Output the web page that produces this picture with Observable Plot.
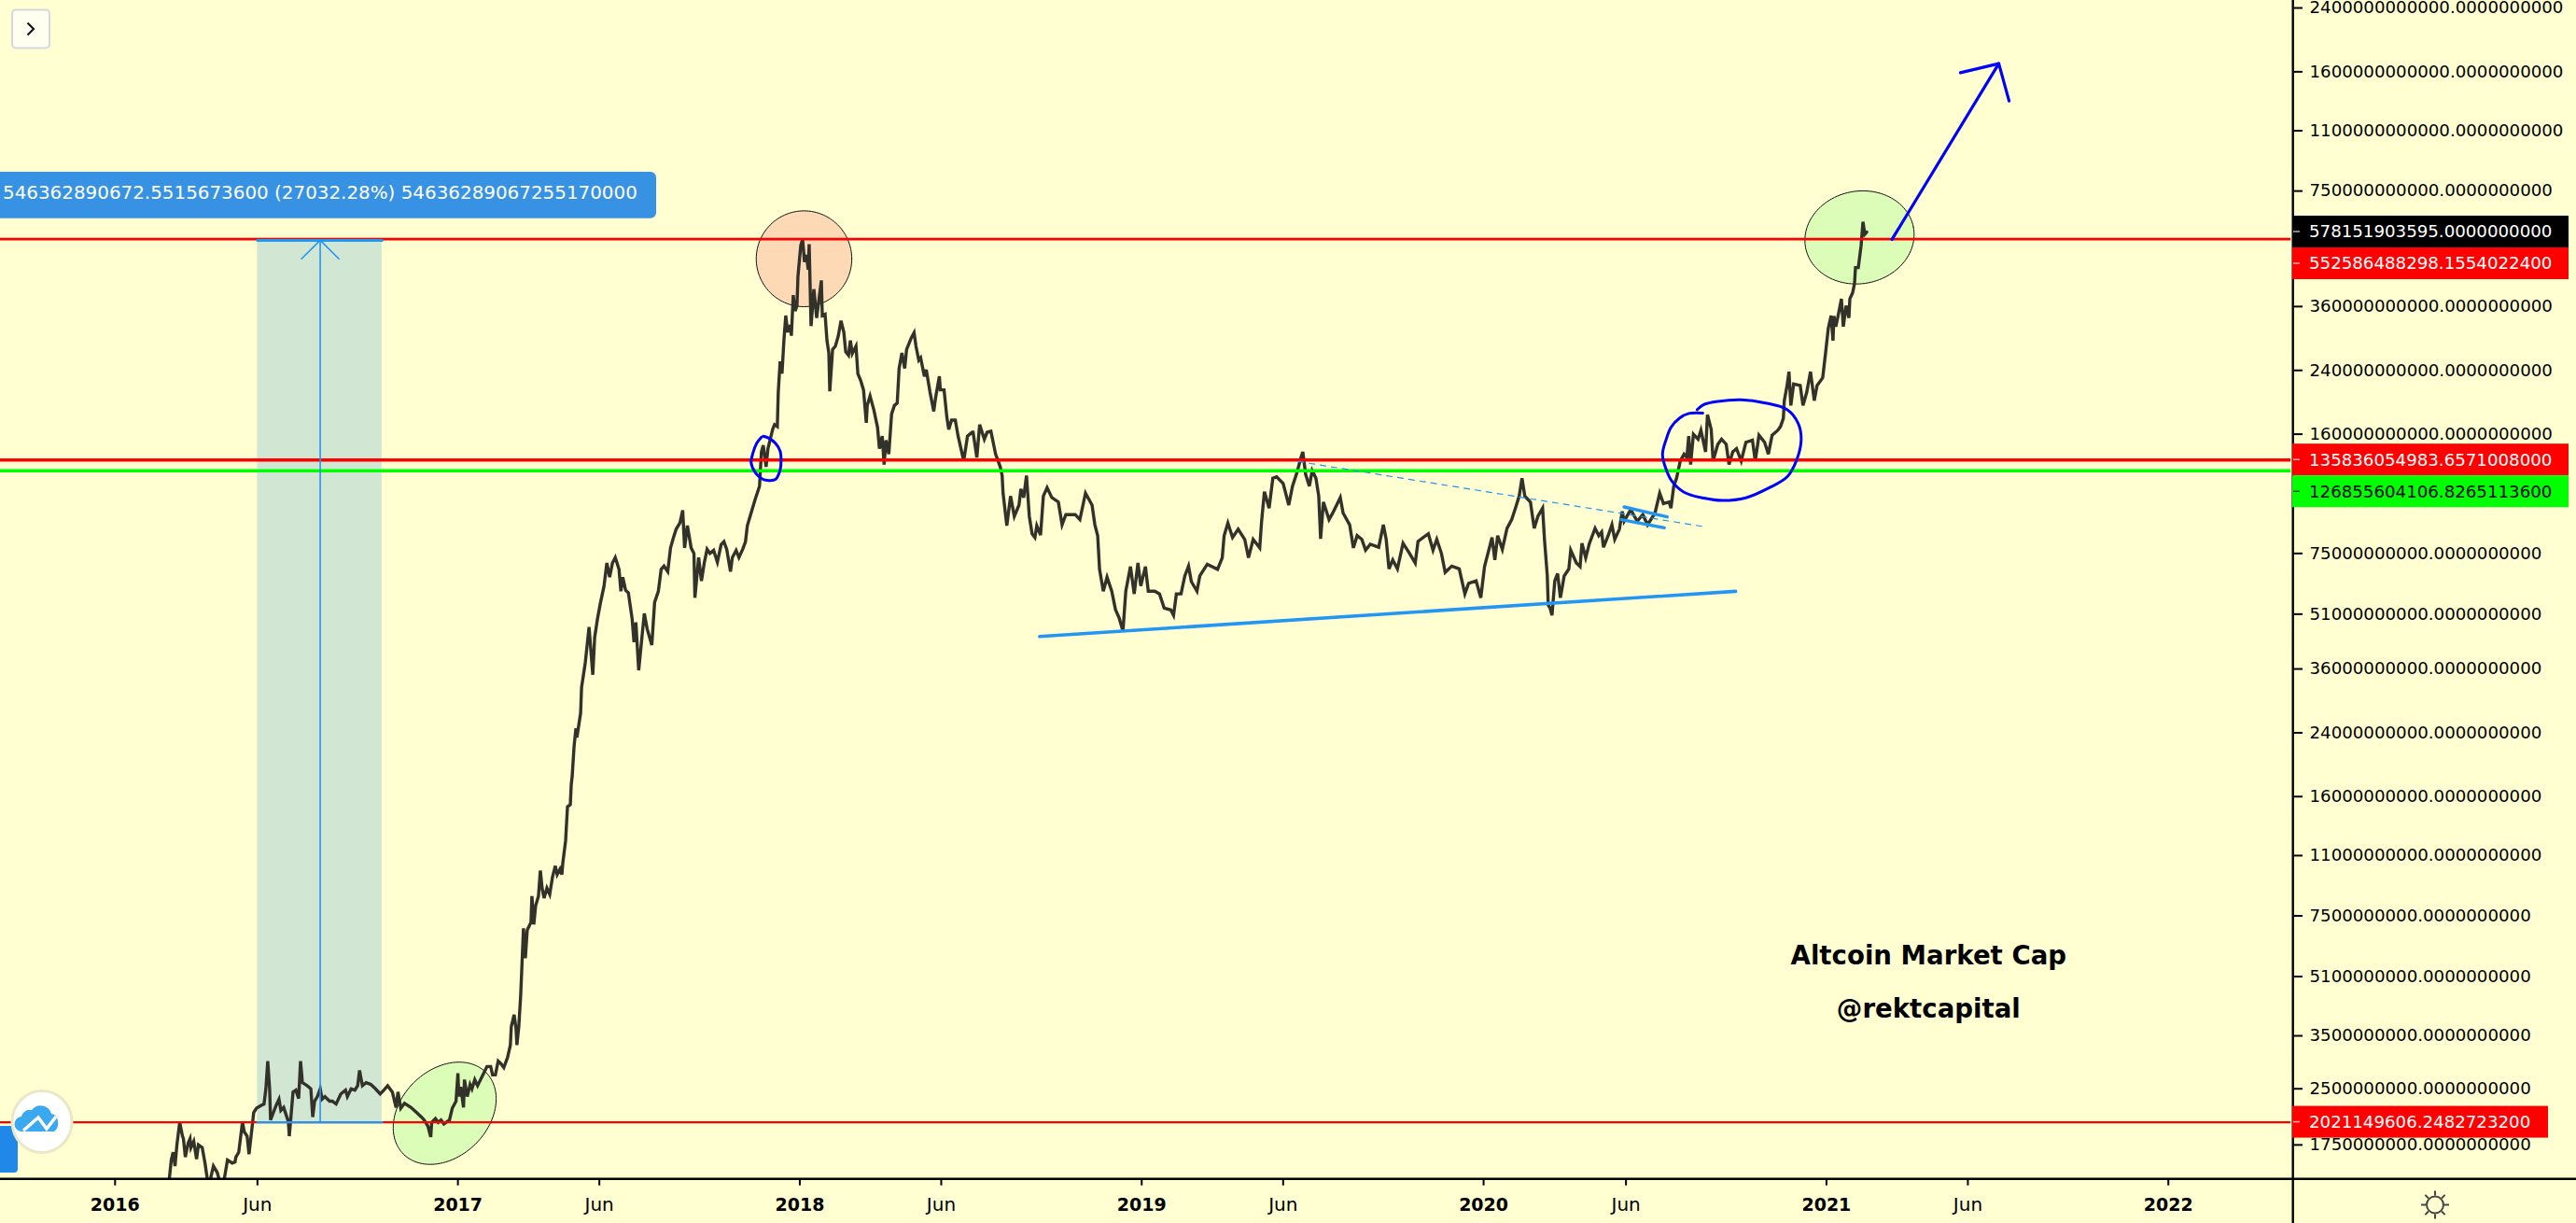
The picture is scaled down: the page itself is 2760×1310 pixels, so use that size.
<!DOCTYPE html>
<html>
<head>
<meta charset="utf-8">
<script src="https://cdn.jsdelivr.net/npm/d3@7"></script>
<script src="https://cdn.jsdelivr.net/npm/@observablehq/plot@0.6"></script>
<style>
html,body{margin:0;padding:0;background:#ffffd1;}
svg{display:block;}
</style>
</head>
<body>
<div id="chart"></div>
<script>
// Altcoin market cap: [days since 2016-01-01, value in billions USD]
const cap2016 = [[52,1.25],[58,1.42],[60,1.59],[62,1.67],[64,1.53],[66,1.75],[69,2.02],[72,1.85],[73,1.82],[75,1.62],[78,1.77],[80,1.82],[81,1.72],[84,1.79],[87,1.60],[89,1.75],[93,1.72],[96,1.56],[99,1.38],[101,1.38],[105,1.53],[109,1.47],[112,1.38],[116,1.38],[120,1.59],[125,1.56],[128,1.57],[129,1.62],[132,1.67],[136,2.02],[138,1.90],[141,1.85],[143,1.65],[146,1.93],[148,2.15],[151,2.21],[156,2.25],[159,2.27],[161,2.50],[163,2.98],[165,2.50],[166,2.05],[169,2.15],[172,2.25],[175,2.34],[177,2.18],[180,2.22],[185,2.03],[186,1.85],[188,2.13],[190,2.45],[193,2.48],[196,2.35],[198,2.98],[200,2.60],[205,2.55],[209,2.50],[211,2.09],[213,2.31],[216,2.38],[219,2.50],[221,2.34],[224,2.38],[229,2.31],[232,2.31],[236,2.27],[241,2.42],[246,2.48],[248,2.38],[252,2.50],[256,2.48],[259,2.55],[261,2.81],[264,2.55],[268,2.60],[273,2.57],[278,2.50],[283,2.42],[287,2.48],[291,2.55],[296,2.45],[300,2.22],[302,2.45],[305,2.21],[309,2.28],[316,2.22],[322,2.15],[327,2.09],[330,2.05],[334,1.97],[337,1.84],[338,2.02],[342,2.07],[345,2.02],[348,2.05],[351,2.00],[357,2.05],[360,2.21],[364,2.31]];
const cap2017 = [[366,2.76],[367,2.38],[369,2.53],[372,2.22],[373,2.65],[376,2.38],[379,2.57],[381,2.50],[384,2.65],[387,2.55],[392,2.71],[397,2.88],[401,2.88],[403,2.73],[406,2.73],[409,2.98],[412,2.93],[415,2.86],[419,3.05],[422,3.30],[423,3.71],[426,4.00],[428,3.67],[429,3.30],[431,3.71],[433,4.52],[434,5.20],[436,6.93],[438,5.73],[440,6.85],[444,7.20],[445,8.50],[447,7.10],[449,8.00],[452,8.50],[454,10.0],[456,8.90],[458,8.40],[461,8.95],[464,8.60],[467,9.60],[470,10.3],[472,9.75],[475,10.1],[477,9.75],[478,10.5],[481,12.1],[482,13.5],[483,15.0],[486,15.2],[487,17.3],[488,18.2],[490,22.0],[492,24.7],[493,23.3],[497,27.2],[498,32.0],[502,37.5],[506,47.0],[510,34.7],[512,44.0],[515,49.5],[518,54.5],[522,61.0],[525,70.6],[528,64.5],[531,70.6],[534,73.1],[538,67.8],[540,59.0],[542,64.5],[545,59.4],[548,58.4],[552,49.5],[554,42.7],[556,48.4],[559,35.7],[563,45.5],[565,51.2],[568,46.5],[573,41.9],[576,55.0],[580,59.0],[583,67.8],[586,69.2],[590,66.8],[593,77.7],[596,82.8],[599,87.5],[603,91.0],[606,98.6],[608,77.7],[611,89.5],[615,77.7],[618,75.0],[619,56.6],[623,73.1],[626,63.0],[629,70.6],[632,77.0],[635,75.0],[639,76.5],[643,71.0],[647,79.3],[650,80.8],[653,77.0],[657,66.8],[659,73.1],[663,76.5],[666,73.1],[670,77.0],[673,80.8],[675,89.5],[679,97.0],[683,105],[688,115],[690,143],[692,149],[695,130],[697,146],[702,165],[704,170],[707,168],[708,209],[710,254],[712,235],[714,290],[716,340],[718,306],[721,320],[722,299],[724,387],[726,350],[728,362],[729,435]];
const cap2018 = [[732,530],[734,552],[736,478],[738,500],[740,455],[741,535],[743,318],[746,402],[749,335],[754,425],[755,340],[758,343],[760,290],[762,268],[763,210],[766,274],[769,280],[772,298],[775,329],[778,306],[780,270],[783,264],[785,290],[787,267],[791,280],[793,235],[796,225],[799,212],[802,172],[803,192],[806,204],[810,187],[814,167],[816,146],[819,158],[821,132],[823,154],[826,141],[829,182],[832,192],[835,195],[837,243],[840,268],[843,243],[845,274],[850,295],[853,305],[855,280],[858,256],[860,260],[864,231],[866,241],[870,209],[874,185],[876,202],[880,231],[881,212],[885,212],[888,178],[890,165],[893,175],[897,175],[900,158],[906,135],[910,158],[915,162],[916,162],[920,138],[923,170],[928,155],[931,162],[935,163],[940,141],[945,130],[947,123],[948,110],[952,89.5],[956,108],[960,95],[965,102],[967,113],[970,107],[973,123],[976,95],[979,85],[982,83],[984,89.5],[988,84.3],[991,108],[995,114],[1000,107],[1007,104],[1011,90],[1015,96],[1025,96],[1030,93],[1036,110],[1043,102],[1046,90],[1049,84],[1051,67.8],[1055,59],[1059,64.5],[1064,59],[1068,52.5],[1072,49.7],[1076,45.8],[1079,59],[1084,69],[1088,58],[1092,70.6]];
const cap2019 = [[1095,61],[1100,69],[1103,59],[1110,59],[1115,58],[1120,53],[1127,52.4],[1130,50.6],[1133,58],[1138,58],[1142,65],[1146,69.2],[1149,62.7],[1155,59],[1158,65],[1166,70],[1177,67.8],[1182,73],[1184,84],[1188,91],[1193,83],[1199,87.5],[1206,82],[1210,73],[1215,82],[1222,77.7],[1224,92],[1227,111],[1232,100],[1236,121],[1240,122],[1247,117],[1253,102],[1257,115],[1262,126],[1266,138],[1268,143],[1271,124],[1275,115],[1278,127],[1282,121],[1285,108],[1287,82.3],[1290,104],[1296,93],[1300,97],[1308,107],[1311,97],[1318,90],[1322,77.7],[1326,84],[1331,82],[1335,76.6],[1340,79.5],[1349,78],[1354,90],[1357,82],[1360,68],[1364,72],[1369,68],[1375,80],[1382,75],[1388,70.6],[1391,81],[1402,85],[1407,76.6],[1411,82],[1416,75],[1420,66.5],[1427,69.2],[1435,68],[1441,58],[1445,62],[1453,63],[1458,56.6]];
const cap2020 = [[1462,69],[1470,83],[1473,72],[1476,84],[1481,77],[1486,88],[1491,93],[1495,100],[1499,108],[1502,121],[1505,108],[1511,104],[1515,88],[1519,95],[1524,100],[1526,82],[1529,65],[1530,54],[1532,53],[1534,50.6],[1537,63],[1540,66],[1543,56.6],[1547,65],[1552,68],[1554,76.6],[1560,70.6],[1564,69],[1566,80],[1570,73],[1574,80],[1580,88],[1584,84],[1587,86],[1589,78],[1594,84],[1598,90],[1601,82],[1606,87.5],[1609,98],[1611,92],[1618,99],[1625,92],[1631,96],[1636,90],[1644,97],[1649,110],[1653,103],[1659,104],[1661,100],[1664,115],[1667,121],[1671,135],[1675,141],[1678,138],[1680,158],[1682,132],[1685,160],[1690,155],[1693,164],[1698,143],[1700,181],[1704,165],[1706,135],[1711,150],[1715,155],[1720,150],[1723,132],[1727,143],[1731,146],[1736,135],[1741,152],[1748,154],[1751,135],[1755,159],[1761,152],[1765,141],[1769,159],[1775,164],[1778,168],[1781,177],[1782,198],[1785,218],[1787,238],[1789,192],[1792,220],[1799,218],[1802,192],[1806,209],[1810,238],[1814,198],[1817,218],[1823,229],[1826,267]];
const cap2021 = [[1829,314],[1832,340],[1834,290],[1835,339],[1837,317],[1839,335],[1843,378],[1845,317],[1848,362],[1851,335],[1852,378],[1855,393],[1857,417],[1858,461],[1861,461],[1864,530],[1866,617],[1868,570],[1870,578]];

// Horizontal levels and the measured move
const levelValues = [552586488298.1554, 135836054983.6571, 126855604106.8265, 2021149606.2483];
const levelColors = ["#ff0000", "#ff0000", "#00ff00", "#ff0000"];
const levelWidths = [2.6, 3.4, 3.4, 2.2];
const measureBase = 2021149606.2483;
const measureChange = 546362890672.5516;
const measureDays = [152, 285, 219];
const measureHead = [[199, 487.6], [219, 548.4], [239, 487.6]];
const measureLabel = "546362890672.5515673600 (27032.28%) 54636289067255170000";

// Drawn annotations: [days, value in billions]
const supportLine = [[987, 44.25], [1730, 58.96]];
const dashedLine = [[1263, 134.5], [1699, 88.7]];
const flagTop = [[1611, 100.8], [1657, 94.6]];
const flagBottom = [[1608, 93], [1654, 88.3]];
const arrowShaft = [[1897, 551.5], [2011, 1685]];
const arrowHead = [[1970, 1591], [2011, 1685], [2022, 1329]];
const smallLoop = [[690,157],[685,151],[681,142],[679,133.7],[683,126],[690,120.8],[696,119.4],[705,120],[710,127.5],[711,135.4],[710,143.6],[705,151],[698,156],[692,158]];
const bigLoop = [[1695,183],[1680,182.5],[1670,177],[1661,167],[1656,155],[1652,141],[1655,129.8],[1662,118.7],[1675,110.7],[1696,106.6],[1716,105],[1741,106.8],[1767,114.2],[1785,122],[1795,135.4],[1800,154],[1797,171],[1785,187],[1762,195],[1736,199],[1711,197],[1696,193],[1689,187]];

// Ellipse annotations: centre day, centre value (billions), radii in days, tilt in degrees
const ellipseDays = [735.5, 1862.3, 351.9];
const ellipseValues = [487.7, 558.6, 2.14];
const ellipseRadiusA = [51, 58.6, 62.2];
const ellipseRadiusB = [51.5, 49.7, 46.6];
const ellipseTilt = [0, -11, -45];
const ellipseFills = ["#fddab5", "#dcfdb7", "#dcfdb7"];

// Axis ticks
const yTicksValues = [2.4e12,1.6e12,1.1e12,7.5e11,3.6e11,2.4e11,1.6e11,7.5e10,5.1e10,3.6e10,2.4e10,1.6e10,1.1e10,7.5e9,5.1e9,3.5e9,2.5e9,1.75e9];
const yearTicks = [2016,2017,2018,2019,2020,2021,2022];
const juneTicks = [2016,2017,2018,2019,2020,2021];

// Price tags on the right-hand scale
const tagTexts = ["578151903595.0000000000","552586488298.1554022400","135836054983.6571008000","126855604106.8265113600","2021149606.2482723200"];
const tagFills = ["#000000","#ff0000","#ff0000","#00ff00","#ff0000"];
const tagInks = ["#ffffff","#ffffff","#ffffff","#000000","#ffffff"];

const chartNotes = ["Altcoin Market Cap", "@rektcapital"];
const noteValues = [5.8e9, 4.14e9];
const noteDay = 1936;

const start = Date.UTC(2016, 0, 1);
const dateOf = d => new Date(start + d * 864e5);
const pts = pairs => pairs.map(([d, v]) => ({date: dateOf(d), value: v * 1e9}));
const series = pts([...cap2016, ...cap2017, ...cap2018, ...cap2019, ...cap2020, ...cap2021]);

function ellipsePoints(i) {
  const th = ellipseTilt[i] * Math.PI / 180, a = ellipseRadiusA[i], b = ellipseRadiusB[i];
  const lc = Math.log10(ellipseValues[i]);
  return d3.range(0, 121).map(k => {
    const t = k / 120 * 2 * Math.PI;
    const dx = a * Math.cos(t) * Math.cos(th) - b * Math.sin(t) * Math.sin(th);
    const dy = a * Math.cos(t) * Math.sin(th) + b * Math.sin(t) * Math.cos(th);
    return {date: dateOf(ellipseDays[i] + dx), value: 1e9 * Math.pow(10, lc - dy / 389.6)};
  });
}

const BLUE = "#0000ff", TV = "#2196f3", INK = "#33322a", BG = "#ffffd1";
const line = (data, o) => Plot.line(data, {x: "date", y: "value", ...o});
const xEnd = dateOf(2325.5);

const plot = Plot.plot({
  width: 2760, height: 1310,
  marginTop: 0, marginLeft: 0, marginRight: 303.3, marginBottom: 47.3,
  style: {background: BG, fontFamily: "'DejaVu Sans'", fontSize: "18.2px", color: "#000"},
  x: {type: "utc", domain: [dateOf(-122.35), xEnd]},
  y: {type: "log", domain: [1.4066e9, 2.517e12]},
  marks: [
    ...[0, 1, 2].map(i => line(ellipsePoints(i), {fill: ellipseFills[i], stroke: "#111", strokeWidth: 1})),
    Plot.rect([0], {
      x1: () => dateOf(measureDays[0]), x2: () => dateOf(measureDays[1]),
      y1: () => measureBase, y2: () => measureBase + measureChange,
      fill: "#1e80e0", fillOpacity: 0.2
    }),
    line(series, {stroke: INK, strokeWidth: 3.4, strokeLinejoin: "miter", strokeMiterlimit: 4, clip: true}),
    ...levelValues.map((v, i) => Plot.ruleY([v], {x1: dateOf(-122.35), x2: dateOf(2323), stroke: levelColors[i], strokeWidth: levelWidths[i]})),
    line(pts([[measureDays[0], measureBase / 1e9], [measureDays[1], measureBase / 1e9]]), {stroke: TV, strokeWidth: 2.4}),
    line(pts([[measureDays[0], (measureBase + measureChange) / 1e9], [measureDays[1], (measureBase + measureChange) / 1e9]]), {stroke: TV, strokeWidth: 3}),
    line(pts([[measureDays[2], measureBase / 1e9], [measureDays[2], (measureBase + measureChange) / 1e9]]), {stroke: TV, strokeWidth: 1.6}),
    line(pts(measureHead), {stroke: TV, strokeWidth: 1.6}),
    line(pts(supportLine), {stroke: TV, strokeWidth: 3.6}),
    line(pts(dashedLine), {stroke: TV, strokeWidth: 1.2, strokeDasharray: "6 6"}),
    line(pts(flagTop), {stroke: TV, strokeWidth: 3.4}),
    line(pts(flagBottom), {stroke: TV, strokeWidth: 3.4}),
    line(pts(smallLoop), {stroke: BLUE, strokeWidth: 3, curve: "catmull-rom"}),
    line(pts(bigLoop), {stroke: BLUE, strokeWidth: 3, curve: "catmull-rom"}),
    line(pts(arrowShaft), {stroke: BLUE, strokeWidth: 3.2}),
    line(pts(arrowHead), {stroke: BLUE, strokeWidth: 3.2}),
    Plot.text(chartNotes, {
      x: () => dateOf(noteDay), y: (d, i) => noteValues[i], text: d => d,
      fontFamily: "'DejaVu Sans'", fontWeight: "bold", fontSize: 27.6, fill: "#000", textAnchor: "middle"
    }),
    Plot.axisY({
      anchor: "right", ticks: yTicksValues, label: null, tickSize: 9.3, strokeWidth: 2, stroke: "#000",
      tickFormat: () => ""
    }),
    Plot.text(yTicksValues, {
      x: xEnd, y: d => d, text: d => d.toFixed(10), textAnchor: "start", dx: 17.3,
      fill: "#000", fontSize: 18.2, fontFamily: "'DejaVu Sans'"
    }),
    Plot.axisX({
      anchor: "bottom", ticks: yearTicks.map(y => new Date(Date.UTC(y, 0, 1))), label: null, tickSize: 7, tickPadding: 13,
      tickFormat: d3.utcFormat("%Y"), fontWeight: "bold", strokeWidth: 2, fill: "#000", stroke: "#000", fontSize: 19
    }),
    Plot.axisX({
      anchor: "bottom", ticks: juneTicks.map(y => new Date(Date.UTC(y, 5, 1))), label: null, tickSize: 7, tickPadding: 13,
      tickFormat: () => "Jun", strokeWidth: 2, fill: "#000", stroke: "#000", fontSize: 20
    })
  ]
});

// Screen furniture drawn on top of the plot
const g = d3.select(plot).append("g").attr("text-anchor", "start");
const yS = plot.scale("y").apply;
const axisX = 2456.7, axisY = 1262.7;
g.append("line").attr("x1", 0).attr("x2", 2760).attr("y1", axisY).attr("y2", axisY).attr("stroke", "#000").attr("stroke-width", 2.4);
g.append("line").attr("x1", axisX).attr("x2", axisX).attr("y1", 0).attr("y2", 1310).attr("stroke", "#000").attr("stroke-width", 2.4);

// price tags, stacked so that they do not overlap
let lastBottom = -Infinity;
tagTexts.forEach((t, i) => {
  const real = yS(parseFloat(t));
  const cy = Math.max(real, lastBottom + 17);
  lastBottom = cy + 17;
  const w = 11 * t.length + 43;
  g.append("rect").attr("x", 2456).attr("y", cy - 17).attr("width", w).attr("height", 34).attr("fill", tagFills[i]);
  g.append("line").attr("x1", 2457).attr("x2", 2464).attr("y1", cy).attr("y2", cy).attr("stroke", tagInks[i]).attr("stroke-opacity", .7).attr("stroke-width", 1.5);
  g.append("text").attr("x", 2474).attr("y", cy).attr("dy", "0.35em").attr("fill", tagInks[i])
    .attr("font-family", "'DejaVu Sans'").attr("font-size", 18.2).text(t);
});

// measure badge
const badge = g.append("g");
badge.append("path").attr("d", "M0 184H697a6 6 0 0 1 6 6V227.7a6 6 0 0 1 -6 6H0Z").attr("fill", "#3792e4");
badge.append("text").attr("x", 3).attr("y", 206).attr("dy", "0.35em").attr("fill", "#fff")
  .attr("font-family", "'DejaVu Sans'").attr("font-size", 19.9).text(measureLabel);

// collapse button
g.append("rect").attr("x", 13).attr("y", 10.5).attr("width", 40).attr("height", 41).attr("rx", 4)
  .attr("fill", "#fffff0").attr("stroke", "#d5d8dc").attr("stroke-width", 2);
g.append("path").attr("d", "M29.5 24.5L36 31L29.5 37.5").attr("fill", "none").attr("stroke", "#131722").attr("stroke-width", 2.2);

// logo
g.append("path").attr("d", "M0 1206H15a4 4 0 0 1 4 4V1252a4 4 0 0 1 -4 4H0Z").attr("fill", "#2088e8");
g.append("ellipse").attr("cx", 45).attr("cy", 1201.5).attr("rx", 32).attr("ry", 33).attr("fill", "#fff").attr("stroke", "#e9e9c8").attr("stroke-width", 3);
g.append("path").attr("d", "M24 1212a8 8 0 0 1 -1 -16a9 9 0 0 1 11 -7a12 12 0 0 1 21 4a8 8 0 0 1 7 8a11 11 0 0 1 -4 11Z").attr("fill", "#3ba9f0");
g.append("path").attr("d", "M25 1211L41 1197L50 1209L60 1196").attr("fill", "none").attr("stroke", "#fff").attr("stroke-width", 3.5);

// settings sun
const sun = g.append("g").attr("transform", "translate(2609,1290.5)").attr("stroke", "#444").attr("stroke-width", 2).attr("fill", "none");
sun.append("circle").attr("r", 9);
d3.range(8).forEach(k => {
  const a = k * Math.PI / 4;
  sun.append("line").attr("x1", 10 * Math.cos(a)).attr("y1", 10 * Math.sin(a)).attr("x2", 15 * Math.cos(a)).attr("y2", 15 * Math.sin(a));
});

document.getElementById("chart").appendChild(plot);
</script>
</body>
</html>
